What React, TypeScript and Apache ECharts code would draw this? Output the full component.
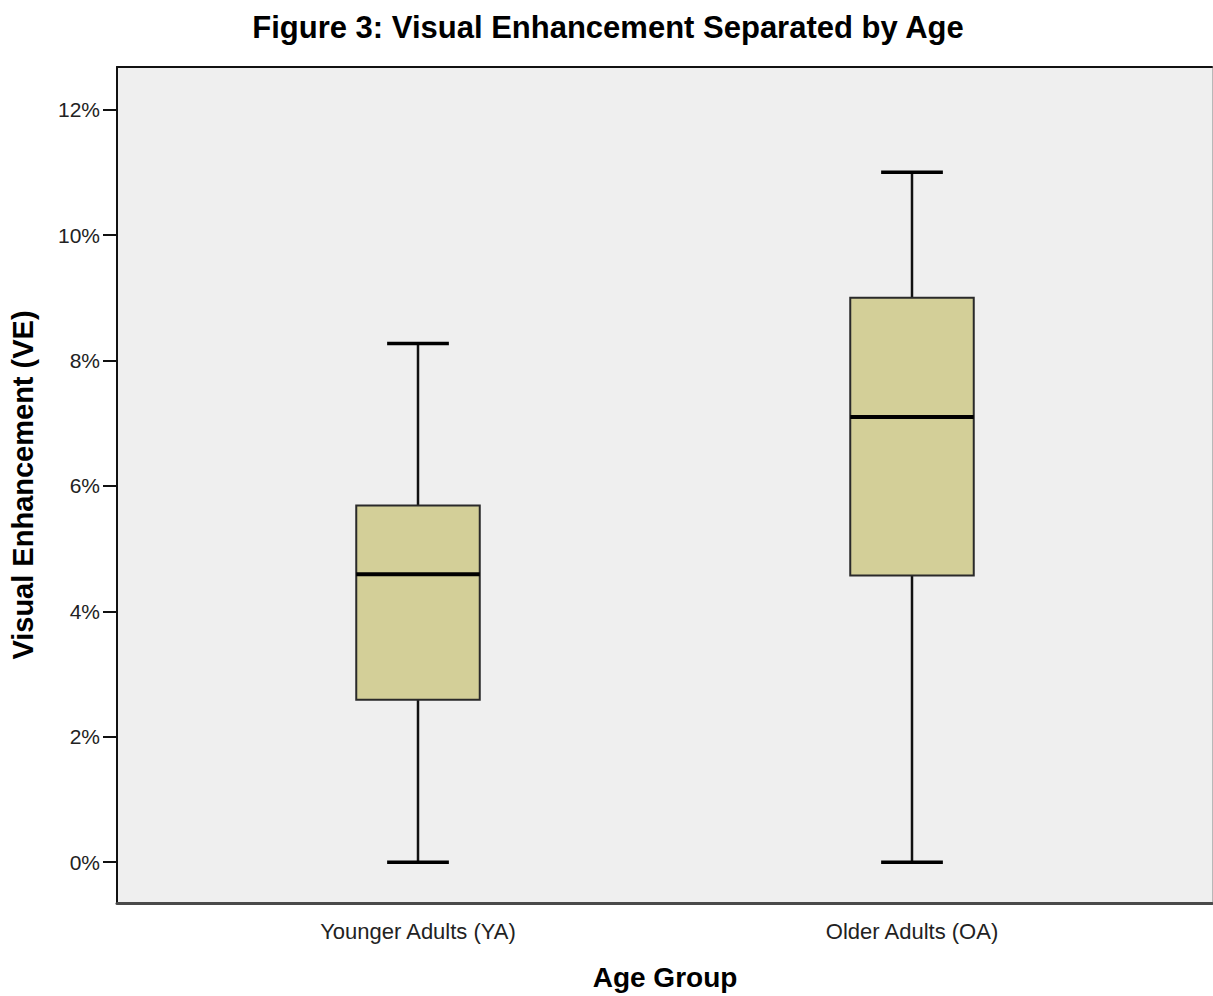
import React, { useEffect, useRef } from "react";
import * as echarts from "echarts";

const categories = ["Younger Adults (YA)", "Older Adults (OA)"];
const whiskerMin = [0, 0];
const quartile1 = [2.59, 4.57];
const medians = [4.59, 7.1];
const quartile3 = [5.69, 9.0];
const whiskerMax = [8.27, 11.0];
const yTicks = [0, 2, 4, 6, 8, 10, 12];

const FONT = '"Liberation Sans", Arial, Helvetica, sans-serif';

export default function App() {
  const ref = useRef<HTMLDivElement>(null);

  useEffect(() => {
    if (!ref.current) return;
    const chart = echarts.init(ref.current, null, { renderer: "svg" });

    const boxData = categories.map((_, i) => [
      i,
      whiskerMin[i],
      quartile1[i],
      medians[i],
      quartile3[i],
      whiskerMax[i],
    ]);

    const yMin = -0.65;
    const yMax = 12.68;

    const option: any = {
      animation: false,
      backgroundColor: "#ffffff",
      title: {
        text: "Figure 3: Visual Enhancement Separated by Age",
        left: 603,
        textAlign: "center",
        top: 7,
        textStyle: { fontFamily: FONT, fontSize: 31, fontWeight: "bold", color: "#000" },
      },
      grid: [
        {
          left: 117,
          right: 1,
          top: 67,
          bottom: 93,
          show: true,
          backgroundColor: "#efefef",
          borderWidth: 0,
        },
        { left: 171, right: 54, top: 67, bottom: 93 },
      ],
      xAxis: [
        {
          gridIndex: 0,
          type: "value",
          min: 0,
          max: 1,
          position: "bottom",
          axisLine: { show: true, onZero: false, lineStyle: { color: "#4a4a4a", width: 3 } },
          axisTick: { show: false },
          axisLabel: { show: false },
          splitLine: { show: false },
        },
        {
          gridIndex: 0,
          type: "value",
          min: 0,
          max: 1,
          position: "top",
          axisLine: { show: true, onZero: false, lineStyle: { color: "#111", width: 2 } },
          axisTick: { show: false },
          axisLabel: { show: false },
          splitLine: { show: false },
        },
        {
          gridIndex: 1,
          type: "category",
          data: categories,
          axisLine: { show: false, onZero: false },
          axisTick: { show: false },
          splitLine: { show: false },
          axisLabel: {
            margin: 17,
            fontFamily: FONT,
            fontSize: 22,
            color: "#222",
          },
          name: "Age Group",
          nameLocation: "middle",
          nameGap: 60,
          nameTextStyle: { fontFamily: FONT, fontSize: 28, fontWeight: "bold", color: "#000" },
        },
      ],
      yAxis: [
        {
          gridIndex: 0,
          type: "value",
          min: yMin,
          max: yMax,
          position: "left",
          axisLine: { show: true, onZero: false, lineStyle: { color: "#111", width: 2 } },
          axisTick: {
            show: true,
            length: 14,
            lineStyle: { color: "#111", width: 2 },
            customValues: yTicks,
          },
          axisLabel: {
            margin: 17,
            fontFamily: FONT,
            fontSize: 21,
            color: "#222",
            customValues: yTicks,
            formatter: (v: number) => `${v}%`,
          },
          splitLine: { show: false },
          name: "Visual Enhancement (VE)",
          nameLocation: "middle",
          nameGap: 80,
          nameTextStyle: { fontFamily: FONT, fontSize: 29, fontWeight: "bold", color: "#000" },
        },
        {
          gridIndex: 0,
          type: "value",
          min: yMin,
          max: yMax,
          position: "right",
          axisLine: { show: true, onZero: false, lineStyle: { color: "#b8b8b8", width: 1 } },
          axisTick: { show: false },
          axisLabel: { show: false },
          splitLine: { show: false },
        },
        {
          gridIndex: 1,
          type: "value",
          min: yMin,
          max: yMax,
          show: false,
        },
      ],
      series: [
        {
          type: "custom",
          xAxisIndex: 2,
          yAxisIndex: 2,
          data: boxData,
          encode: { x: 0, y: [1, 2, 3, 4, 5] },
          renderItem: (params: any, api: any) => {
            const idx = api.value(0);
            const band = api.size([1, 0])[0];
            const half = band * 0.125;
            const capHalf = half / 2;
            const pMin = api.coord([idx, api.value(1)]);
            const pQ1 = api.coord([idx, api.value(2)]);
            const pMed = api.coord([idx, api.value(3)]);
            const pQ3 = api.coord([idx, api.value(4)]);
            const pMax = api.coord([idx, api.value(5)]);
            const cx = pMin[0];
            const lineStyle = { stroke: "#111", lineWidth: 2.5 };
            return {
              type: "group",
              children: [
                {
                  type: "line",
                  shape: { x1: cx, y1: pMin[1], x2: cx, y2: pQ1[1] },
                  style: lineStyle,
                },
                {
                  type: "line",
                  shape: { x1: cx, y1: pQ3[1], x2: cx, y2: pMax[1] },
                  style: lineStyle,
                },
                {
                  type: "line",
                  shape: { x1: cx - capHalf, y1: pMin[1], x2: cx + capHalf, y2: pMin[1] },
                  style: { stroke: "#000", lineWidth: 3.5 },
                },
                {
                  type: "line",
                  shape: { x1: cx - capHalf, y1: pMax[1], x2: cx + capHalf, y2: pMax[1] },
                  style: { stroke: "#000", lineWidth: 3.5 },
                },
                {
                  type: "rect",
                  shape: { x: cx - half, y: pQ3[1], width: half * 2, height: pQ1[1] - pQ3[1] },
                  style: { fill: "#d3cf98", stroke: "#2a2a2a", lineWidth: 2 },
                },
                {
                  type: "line",
                  shape: { x1: cx - half, y1: pMed[1], x2: cx + half, y2: pMed[1] },
                  style: { stroke: "#000", lineWidth: 4 },
                },
              ],
            };
          },
        },
      ],
    };

    chart.setOption(option);
    return () => chart.dispose();
  }, []);

  return (
    <div
      ref={ref}
      style={{ position: "fixed", left: 0, top: 0, width: 1213, height: 996, background: "#fff" }}
    />
  );
}
